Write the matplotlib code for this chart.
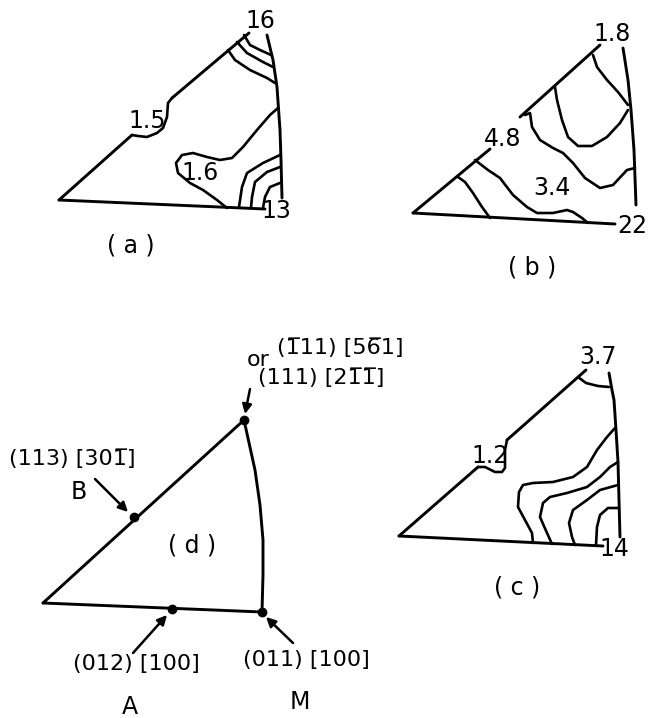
import numpy as np
import matplotlib.pyplot as plt

plt.rcParams['font.family'] = ['Liberation Sans Narrow', 'DejaVu Sans']

# all coordinates are in picture pixels (x right, y down)

# ---- (a) ----
a_hyp_low = [(59, 200), (132, 135)]
a_hyp_high = [(172, 98), (249, 33)]
a_right = [(267, 35), (273, 60), (277, 87), (280, 130), (281, 160), (282, 198)]
a_bottom = [(59, 200), (265, 209)]
a_contours = [
    [(172, 98), (168, 103), (167, 117), (163, 128), (157, 133), (147, 137), (138, 136), (132, 135)],
    [(244, 35), (250, 45), (260, 50), (271, 55)],
    [(237, 42), (247, 53), (263, 62), (273, 67)],
    [(228, 50), (235, 60), (250, 70), (267, 78), (275, 83)],
    [(278, 108), (270, 115), (257, 130), (243, 147), (232, 158), (220, 160), (207, 157),
     (193, 153), (182, 155), (176, 163), (178, 173), (190, 183), (203, 190), (217, 200), (227, 208)],
    [(280, 155), (263, 163), (247, 173), (242, 187), (239, 207)],
    [(280, 167), (267, 172), (255, 182), (252, 197), (251, 208)],
    [(280, 183), (270, 187), (265, 197), (263, 208)],
]
a_labels = [("16", 260, 21), ("1.5", 147, 121), ("1.6", 200, 173), ("13", 276, 211)]

# ---- (b) ----
b_hyp_low = [(413, 213), (490, 149)]
b_hyp_high = [(520, 117), (600, 45)]
b_right = [(623, 48), (628, 80), (631, 110), (634, 150), (636, 205)]
b_bottom = [(413, 213), (615, 224)]
b_contours = [
    [(593, 55), (597, 67), (607, 80), (618, 92), (628, 105)],
    [(555, 87), (557, 100), (562, 120), (568, 137), (578, 146), (592, 146), (607, 137),
     (620, 123), (628, 110)],
    [(525, 115), (530, 113), (532, 127), (540, 140), (553, 148), (563, 153), (573, 163),
     (585, 178), (600, 188), (613, 185), (627, 170), (635, 168)],
    [(475, 160), (488, 170), (500, 178), (513, 195), (527, 207), (537, 213), (553, 213),
     (567, 210), (573, 212), (582, 218), (588, 223)],
    [(458, 177), (465, 182), (473, 193), (482, 207), (490, 218)],
]
b_labels = [("1.8", 612, 34), ("4.8", 503, 139), ("3.4", 552, 188), ("22", 632, 226)]

# ---- (c) ----
c_hyp_low = [(399, 536), (478, 467)]
c_hyp_high = [(507, 440), (586, 370)]
c_right = [(609, 373), (612, 390), (614, 400), (616, 430), (618, 462), (619, 500), (620, 537)]
c_bottom = [(399, 536), (603, 546)]
c_contours = [
    [(578, 377), (586, 383), (598, 386), (609, 387)],
    [(507, 440), (505, 450), (505, 468), (502, 472), (495, 472), (485, 467), (478, 467)],
    [(615, 428), (607, 437), (597, 450), (587, 467), (573, 477), (553, 482), (533, 483),
     (523, 485), (519, 492), (518, 507), (525, 520), (532, 533), (533, 543)],
    [(618, 462), (610, 467), (600, 477), (587, 487), (567, 493), (550, 497), (543, 503),
     (540, 517), (547, 533), (552, 544)],
    [(618, 485), (600, 490), (587, 500), (573, 510), (569, 523), (572, 537), (575, 545)],
    [(618, 508), (608, 508), (600, 515), (597, 527), (596, 545)],
]
c_labels = [("3.7", 598, 357), ("1.2", 490, 456), ("14", 614, 549)]

# ---- (d) ----
d_hyp = [(43, 603), (244, 420)]
d_right = [(244, 420), (255, 470), (260, 505), (263, 540), (263, 575), (262, 612)]
d_bottom = [(43, 603), (262, 612)]
d_points = [(244, 420), (134, 517), (172, 609), (262, 612)]
d_arrows = [((250, 389), (245, 414)), ((95, 479), (128, 512)),
            ((133, 653), (167, 615)), ((293, 643), (266, 617))]
d_labels = [("or", 258, 360), ("(1\u030511) [56\u03051]", 340, 348),
            ("(111) [21\u03051\u0305]", 321, 378),
            ("(113) [301\u0305]", 72, 459),
            ("(012) [100]", 136, 664),
            ("(011) [100]", 306, 660)]
d_letters = [("B", 79, 492), ("A", 130, 707), ("M", 300, 702)]

panel_names = [("( a )", 131, 245), ("( b )", 532, 267), ("( c )", 517, 588), ("( d )", 192, 545)]


def draw_line(ax, pts, lw=1.9):
    pts = np.array(pts)
    ax.plot(pts[:, 0], pts[:, 1], color="black", lw=lw, solid_capstyle="round",
            solid_joinstyle="round")


fig = plt.figure(figsize=(6.57, 7.18), dpi=100)
ax = fig.add_axes([0, 0, 1, 1])
ax.set_xlim(0, 657)
ax.set_ylim(718, 0)
ax.axis("off")

for hyp_low, hyp_high, right, bottom, contours, labels in [
        (a_hyp_low, a_hyp_high, a_right, a_bottom, a_contours, a_labels),
        (b_hyp_low, b_hyp_high, b_right, b_bottom, b_contours, b_labels),
        (c_hyp_low, c_hyp_high, c_right, c_bottom, c_contours, c_labels)]:
    for seg in [hyp_low, hyp_high, right, bottom]:
        draw_line(ax, seg, lw=2.1)
    for c in contours:
        draw_line(ax, c)
    for txt, x, y in labels:
        ax.text(x, y, txt, fontsize=17, ha="center", va="center")

for txt, x, y in panel_names:
    ax.text(x, y, txt, fontsize=17, ha="center", va="center", family="DejaVu Sans")

# (d) schematic
for seg in [d_hyp, d_right, d_bottom]:
    draw_line(ax, seg, lw=2.1)
pts = np.array(d_points)
ax.plot(pts[:, 0], pts[:, 1], "o", color="black", ms=6)
for start, end in d_arrows:
    ax.annotate("", xy=end, xytext=start,
                arrowprops=dict(arrowstyle="-|>", color="black", lw=1.8, mutation_scale=14,
                                shrinkA=0, shrinkB=0))
for txt, x, y in d_labels:
    ax.text(x, y, txt, fontsize=16, ha="center", va="center", family="DejaVu Sans")
for txt, x, y in d_letters:
    ax.text(x, y, txt, fontsize=17, ha="center", va="center", family="DejaVu Sans")

fig.savefig("out.png", dpi=100)
